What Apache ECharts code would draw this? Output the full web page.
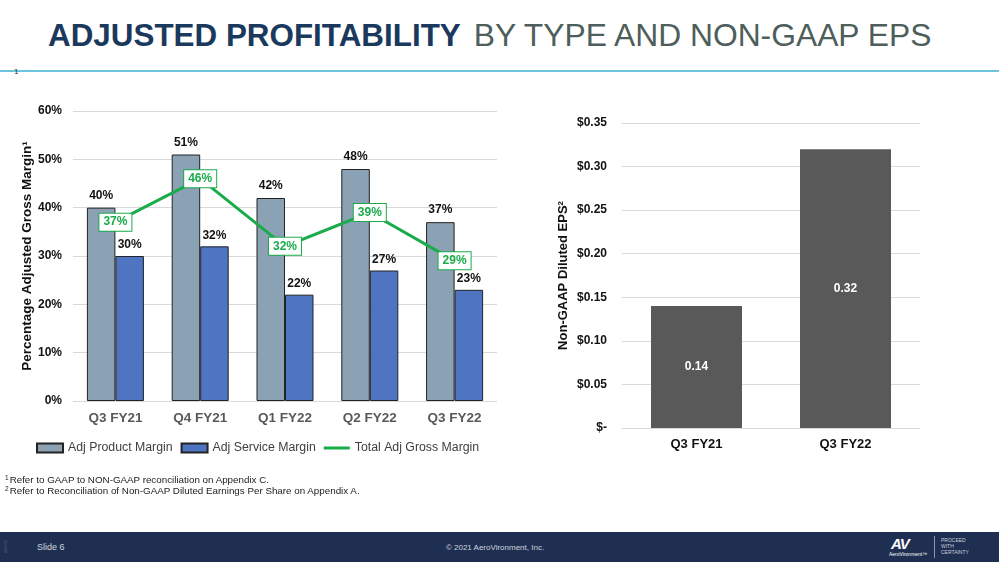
<!DOCTYPE html>
<html>
<head>
<meta charset="utf-8">
<script src="https://cdn.jsdelivr.net/npm/echarts@6/dist/echarts.min.js"></script>
<style>
html,body{margin:0;padding:0;width:999px;height:562px;overflow:hidden;background:#fff;font-family:"Liberation Sans",Arial,sans-serif;}
#chart{position:absolute;left:0;top:0;width:999px;height:562px;}
.title{position:absolute;left:48px;top:17px;font-size:31.4px;line-height:36px;white-space:nowrap;}
.title b{color:#1B395D;font-weight:bold;}
.title span{color:#4E5E5A;margin-left:13px;font-size:31.8px;}
.rule{position:absolute;left:0;top:70px;width:999px;height:2px;background:#6CC5DC;}
.one{position:absolute;left:14px;top:67px;font-size:8px;color:#333;}
.fn{position:absolute;left:5px;font-size:9.8px;color:#222;white-space:nowrap;}
.fn sup{font-size:6.5px;vertical-align:3px;margin-right:1px;}
.footer{position:absolute;left:0;top:532px;width:999px;height:30px;background:#1E2F52;}
.footer .slide{position:absolute;left:37px;top:10px;font-size:9px;color:#d0d5de;}
.footer .copy{position:absolute;left:0;width:990px;text-align:center;top:11px;font-size:8px;color:#d0d5de;}
.footer .av{position:absolute;left:891px;top:3px;font-size:15px;font-weight:bold;font-style:italic;color:#fff;letter-spacing:-1px;}
.footer .aero{position:absolute;left:889px;top:19px;font-size:5px;color:#fff;}
.footer .div{position:absolute;left:934px;top:4px;width:1px;height:22px;background:#8a95aa;}
.footer .pwc{position:absolute;left:941px;top:5px;font-size:5px;line-height:6px;color:#c9d0dc;}
.footer .vt{position:absolute;left:3px;top:8px;font-size:4px;color:#56627e;writing-mode:vertical-rl;}
</style>
</head>
<body>
<div class="title"><b>ADJUSTED PROFITABILITY</b><span>BY TYPE AND NON-GAAP EPS</span></div>
<div class="rule"></div>
<div class="one">1</div>
<div id="chart"></div>
<div class="fn" style="top:474px;"><sup>1</sup>Refer to GAAP to NON-GAAP reconciliation on Appendix C.</div>
<div class="fn" style="top:485px;"><sup>2</sup>Refer to Reconciliation of Non-GAAP Diluted Earnings Per Share on Appendix A.</div>
<div class="footer">
  <div class="vt">000000</div>
  <div class="slide">Slide 6</div>
  <div class="copy">© 2021 AeroVironment, Inc.</div>
  <div class="av">AV</div>
  <div class="aero">AeroVironment™</div>
  <div class="div"></div>
  <div class="pwc">PROCEED<br>WITH<br>CERTAINTY</div>
</div>
<script>
// ---- data ----
var quarters = ['Q3 FY21', 'Q4 FY21', 'Q1 FY22', 'Q2 FY22', 'Q3 FY22'];
var productMargin = [40, 51, 42, 48, 37];
var serviceMargin = [30, 32, 22, 27, 23];
var totalMargin = [37, 46, 32, 39, 29];
var epsQuarters = ['Q3 FY21', 'Q3 FY22'];
var epsValues = [0.14, 0.32];
var seriesNames = ['Adj Product Margin', 'Adj Service Margin', 'Total Adj Gross Margin'];

var chart = echarts.init(document.getElementById('chart'));
var font = '"Liberation Sans", Arial, sans-serif';
var option = {
  animation: false,
  textStyle: {fontFamily: font},
  legend: {
    left: 31, top: 437,
    itemWidth: 26, itemHeight: 9, itemGap: 8,
    textStyle: {fontSize: 12.3, color: '#404040', fontFamily: font},
    data: [
      {name: seriesNames[0], icon: 'rect'},
      {name: seriesNames[1], icon: 'rect'},
      {name: seriesNames[2], icon: 'path://M0,0 L30,0 L30,3.5 L0,3.5 Z', itemStyle: {color: '#1AAB4B', borderWidth: 0}}
    ]
  },
  grid: [
    {left: 73, top: 111, width: 424, height: 290},
    {left: 622, top: 123, width: 298, height: 305}
  ],
  xAxis: [
    {type: 'category', gridIndex: 0, data: quarters,
      axisLine: {show: false}, axisTick: {show: false},
      axisLabel: {fontSize: 13.5, fontWeight: 'bold', color: '#595959', margin: 10}},
    {type: 'category', gridIndex: 1, data: epsQuarters,
      axisLine: {show: false}, axisTick: {show: false},
      axisLabel: {fontSize: 13, fontWeight: 'bold', color: '#111', margin: 10}}
  ],
  yAxis: [
    {type: 'value', gridIndex: 0, min: 0, max: 60, interval: 10,
      axisLabel: {formatter: '{value}%', fontSize: 12, fontWeight: 'bold', color: '#111', margin: 11},
      splitLine: {lineStyle: {color: '#d9d9d9', width: 1}},
      name: 'Percentage Adjusted Gross Margin¹', nameLocation: 'middle', nameGap: 39, nameRotate: 90,
      nameTextStyle: {fontSize: 13.5, fontWeight: 'bold', color: '#111'}},
    {type: 'value', gridIndex: 1, min: 0, max: 0.35, interval: 0.05,
      axisLabel: {formatter: function (v) { return v === 0 ? '$-' : '$' + v.toFixed(2); },
        fontSize: 12, fontWeight: 'bold', color: '#111', margin: 15},
      splitLine: {lineStyle: {color: '#d9d9d9', width: 1}},
      name: 'Non-GAAP Diluted EPS²', nameLocation: 'middle', nameGap: 52, nameRotate: 90,
      nameTextStyle: {fontSize: 13, fontWeight: 'bold', color: '#111'}}
  ],
  series: [
    {name: seriesNames[0], type: 'bar', xAxisIndex: 0, yAxisIndex: 0, data: productMargin,
      barWidth: 28.5, barGap: '0%',
      itemStyle: {color: '#8BA2B5', borderColor: '#222', borderWidth: 1},
      label: {show: true, position: 'top', formatter: '{c}%', fontSize: 12, fontWeight: 'bold', color: '#111', distance: 6}},
    {name: seriesNames[1], type: 'bar', xAxisIndex: 0, yAxisIndex: 0, data: serviceMargin,
      barWidth: 28.5, barGap: '0%',
      itemStyle: {color: '#4E74C2', borderColor: '#222', borderWidth: 1},
      label: {show: true, position: 'top', formatter: '{c}%', fontSize: 12, fontWeight: 'bold', color: '#111', distance: 5}},
    {name: seriesNames[2], type: 'line', xAxisIndex: 0, yAxisIndex: 0, data: totalMargin,
      symbol: 'circle', symbolSize: 1, z: 5,
      lineStyle: {color: '#1AAB4B', width: 3},
      itemStyle: {color: '#1AAB4B'},
      label: {show: true, position: 'inside', formatter: '{c}%', fontSize: 12, fontWeight: 'bold', color: '#1AAB4B',
        backgroundColor: '#fff', borderColor: '#1AAB4B', borderWidth: 1, padding: [3, 4, 2, 4]}},
    {name: 'EPS', type: 'bar', xAxisIndex: 1, yAxisIndex: 1, data: epsValues, barWidth: 91,
      itemStyle: {color: '#595959'},
      label: {show: true, position: 'inside', formatter: function (p) { return p.value.toFixed(2); },
        fontSize: 12, fontWeight: 'bold', color: '#fff'}}
  ]
};
chart.setOption(option);
</script>
</body>
</html>
